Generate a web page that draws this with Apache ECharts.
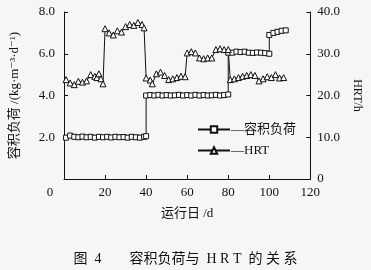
<!DOCTYPE html>
<html><head><meta charset="utf-8">
<script src="https://cdn.jsdelivr.net/npm/echarts@6/dist/echarts.min.js"></script>
<style>html,body{margin:0;padding:0;background:#f6f6f4;}#c{width:371px;height:270px;}</style>
</head><body><div id="c"></div>
<script>
const loadDays = [1,3,5,7,9,11,13,15,17,19,21,23,25,27,29,31,33,35,37,39,40,
  40,42,44,46,48,50,52,54,56,58,60,62,64,66,68,70,72,74,76,78,80,
  80,82,84,86,88,90,92,94,96,98,100,
  100,102,104,106,108];
const loadValues = [1.98,2.08,2.02,2.0,2.03,2.0,2.02,1.98,2.02,2.0,2.02,1.99,2.02,2.0,2.01,1.98,2.02,2.0,1.98,2.02,2.05,
  4.0,4.02,4.0,4.03,4.0,4.02,4.0,4.01,4.03,4.0,4.02,4.0,4.03,4.0,4.02,4.0,4.01,4.03,4.0,4.02,4.05,
  6.05,6.05,6.1,6.08,6.1,6.05,6.04,6.06,6.05,6.03,6.0,
  6.9,7.0,7.05,7.1,7.12];
const hrtDays = [1,3,5,7,9,11,13,15,16,17,18,19,
  20,22,24,26,28,30,32,34,36,38,39,
  40,42,43,45,47,49,51,53,55,57,59,
  60,62,64,66,68,70,72,74,76,78,80,
  81,83,85,87,89,91,93,95,97,99,101,103,105,107];
const hrtValues = [23.8,23.0,22.6,23.4,23.2,23.5,25.0,24.6,24.3,25.2,24.0,22.8,
  36.0,35.0,34.5,35.5,35.2,36.5,37.0,36.8,37.5,37.0,36.2,
  24.2,23.7,22.8,25.2,25.6,24.8,23.8,24.0,24.3,24.6,24.5,
  30.2,30.5,30.2,29.0,28.8,29.0,29.0,31.0,31.2,31.0,31.0,
  23.8,24.0,24.3,24.6,24.8,25.0,24.8,23.5,24.0,24.5,24.3,25.0,24.2,24.3];
const xTicks = [0,20,40,60,80,100,120];
const seriesNames = ['容积负荷','HRT'];
const captionText = '图  4　　容积负荷与  H R T  的 关 系';
const xName = '运行日 /d';
const yLeftName = '容积负荷 /(kg·m⁻³·d⁻¹)';
const yRightName = 'HRT/h';

const FONT = '"Liberation Serif","DejaVu Serif","Noto Sans CJK SC",serif';
const axisText = {color:'#111', fontFamily:FONT, fontSize:13};
const chart = echarts.init(document.getElementById('c'), null, {renderer:'canvas'});
chart.setOption({
  backgroundColor:'#f6f6f4',
  animation:false,
  title:{text:captionText, left:'center', top:247,
    textStyle:{fontFamily:FONT, fontSize:14, fontWeight:'normal', color:'#111'}},
  grid:{left:61, right:54, top:12, bottom:91},
  legend:{orient:'vertical', left:192, top:118, itemWidth:32, itemHeight:8, itemGap:8,
    data:seriesNames,
    formatter:n=>'—'+n,
    textStyle:{fontFamily:FONT, fontSize:13, color:'#111', padding:[0,0,0,-4]}},
  xAxis:{type:'value', min:0, max:120, interval:20,
    name:xName, nameLocation:'middle', nameGap:28,
    nameTextStyle:{fontFamily:FONT, fontSize:13, color:'#111'},
    axisLine:{lineStyle:{color:'#111', width:1}},
    axisTick:{inside:true, length:4, lineStyle:{color:'#111'}},
    splitLine:{show:false},
    axisLabel:Object.assign({margin:7, formatter:v=> v===0 ? '{z|0}' : String(v),
      rich:{z:{fontFamily:FONT, fontSize:13, color:'#111', padding:[0,28,0,0]}}}, axisText)},
  yAxis:[{type:'value', min:0, max:8, interval:2, position:'left',
    name:yLeftName, nameLocation:'middle', nameGap:43, nameRotate:90,
    nameTextStyle:{fontFamily:FONT, fontSize:13, color:'#111'},
    axisLine:{show:true, lineStyle:{color:'#111'}},
    axisTick:{inside:true, length:4, lineStyle:{color:'#111'}},
    splitLine:{show:false},
    axisLabel:Object.assign({margin:9, showMinLabel:false, formatter:v=>v.toFixed(1)}, axisText)},
   {type:'value', min:0, max:40, interval:10, position:'right',
    name:yRightName, nameLocation:'middle', nameGap:36, nameRotate:-90,
    nameTextStyle:{fontFamily:FONT, fontSize:12, color:'#111'},
    axisLine:{show:true, lineStyle:{color:'#111'}},
    axisTick:{inside:true, length:4, lineStyle:{color:'#111'}},
    splitLine:{show:false},
    axisLabel:Object.assign({margin:7, formatter:v=> v===0 ? '0' : v.toFixed(1)}, axisText)}],
  series:[
    {name:seriesNames[0], type:'line', yAxisIndex:0,
     data:loadDays.map((d,i)=>[d,loadValues[i]]),
     symbol:'rect', symbolSize:5, showAllSymbol:true,
     lineStyle:{color:'#111', width:1},
     itemStyle:{color:'#fff', borderColor:'#111', borderWidth:1}},
    {name:seriesNames[1], type:'line', yAxisIndex:1,
     data:hrtDays.map((d,i)=>[d,hrtValues[i]]),
     symbol:'triangle', symbolSize:6, showAllSymbol:true,
     lineStyle:{color:'#111', width:1},
     itemStyle:{color:'#fff', borderColor:'#111', borderWidth:1}}
  ]
});
</script></body></html>
